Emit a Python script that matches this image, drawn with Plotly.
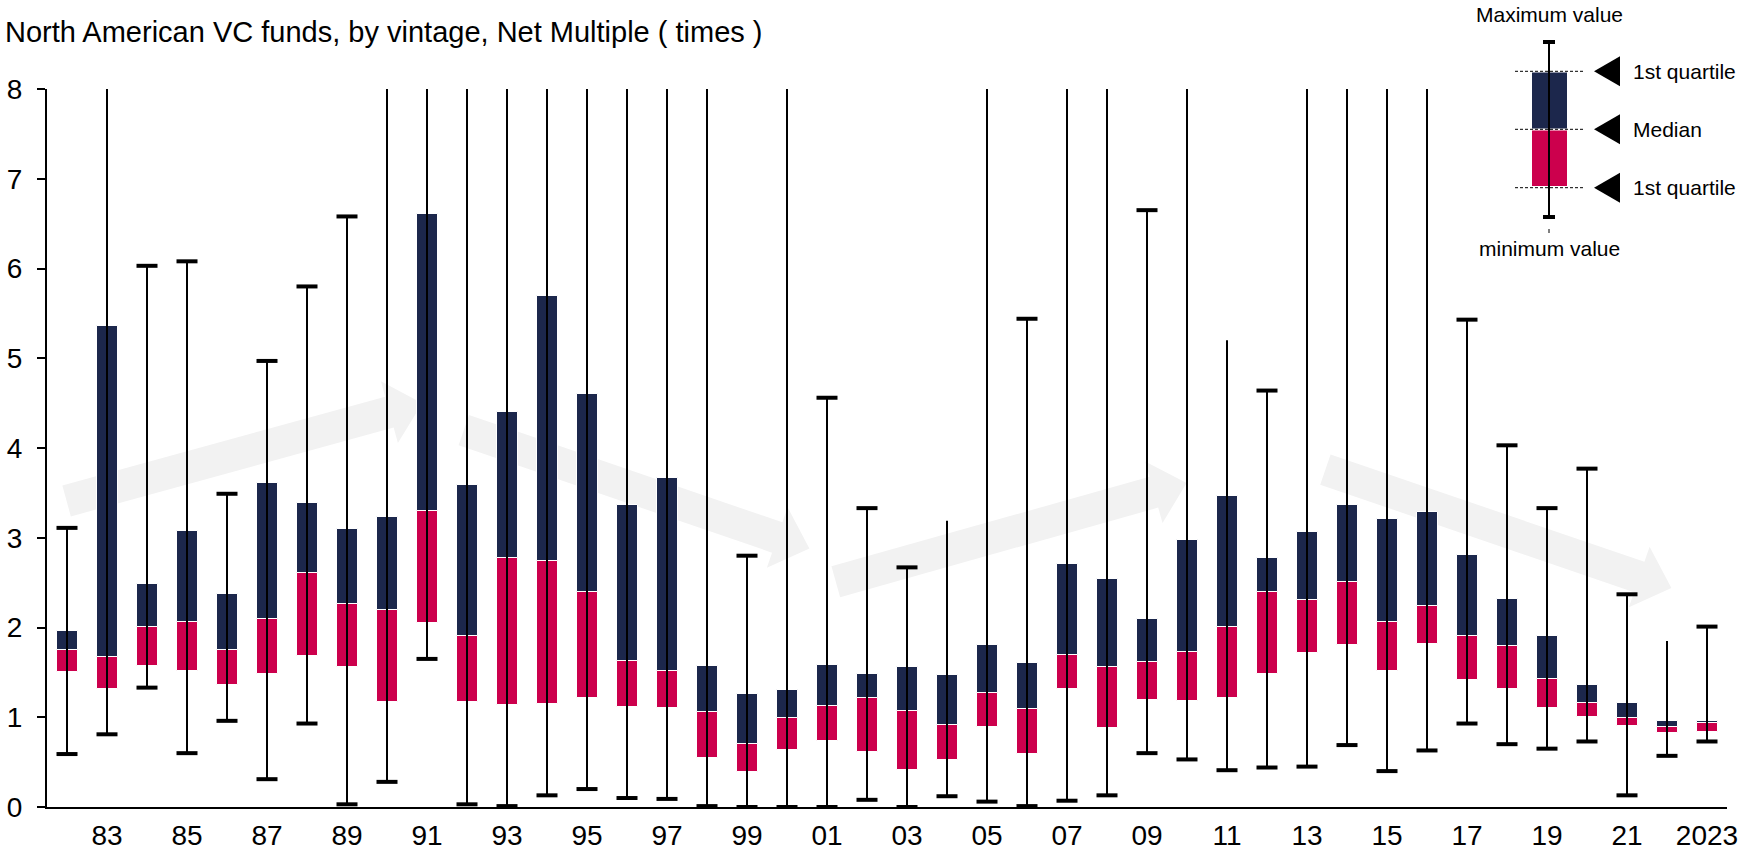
import math
import plotly.graph_objects as go

# ---- data: net multiple distribution per vintage year ----
years = list(range(1982, 2024))
# None = maximum beyond the top of the axis
max_val = [3.11, None, 6.03, 6.08, 3.49, 4.97, 5.80, 6.58, None, None,
           None, None, None, None, None, None, None, 2.80, None, 4.56,
           3.33, 2.67, 3.19, None, 5.44, None, None, 6.65, None, 5.20,
           4.64, None, None, None, None, 5.43, 4.03, 3.33, 3.77, 2.37,
           1.85, 2.01]
max_capped = [True, False, True, True, True, True, True, True, False, False,
              False, False, False, False, False, False, False, True, False, True,
              True, True, False, False, True, False, False, True, False, False,
              True, False, False, False, False, True, True, True, True, True,
              False, True]
q3_val = [1.96, 5.36, 2.49, 3.08, 2.37, 3.61, 3.39, 3.10, 3.23, 6.61,
          3.59, 4.40, 5.69, 4.60, 3.36, 3.67, 1.57, 1.26, 1.30, 1.58,
          1.48, 1.56, 1.47, 1.80, 1.61, 2.71, 2.54, 2.10, 2.97, 3.47,
          2.78, 3.06, 3.36, 3.21, 3.29, 2.81, 2.32, 1.90, 1.36, 1.16,
          0.96, 0.96]
median_val = [1.75, 1.67, 2.01, 2.06, 1.75, 2.09, 2.61, 2.26, 2.20, 3.30,
              1.90, 2.78, 2.74, 2.40, 1.63, 1.51, 1.06, 0.70, 0.99, 1.13,
              1.22, 1.07, 0.91, 1.27, 1.09, 1.69, 1.56, 1.62, 1.73, 2.01,
              2.40, 2.31, 2.51, 2.06, 2.24, 1.90, 1.79, 1.43, 1.16, 0.99,
              0.89, 0.94]
q1_val = [1.50, 1.31, 1.57, 1.52, 1.36, 1.48, 1.68, 1.56, 1.17, 2.05,
          1.17, 1.14, 1.15, 1.22, 1.11, 1.10, 0.55, 0.39, 0.64, 0.73,
          0.61, 0.41, 0.52, 0.89, 0.59, 1.31, 0.88, 1.19, 1.18, 1.21,
          1.48, 1.72, 1.81, 1.51, 1.82, 1.42, 1.32, 1.10, 1.00, 0.90,
          0.83, 0.84]
min_val = [0.59, 0.81, 1.33, 0.60, 0.96, 0.31, 0.93, 0.03, 0.28, 1.65,
           0.03, 0.01, 0.13, 0.20, 0.10, 0.09, 0.01, 0.00, 0.00, 0.00,
           0.08, 0.00, 0.12, 0.06, 0.01, 0.07, 0.13, 0.60, 0.53, 0.41,
           0.44, 0.45, 0.69, 0.40, 0.63, 0.93, 0.70, 0.65, 0.73, 0.13,
           0.57, 0.73]

tick_text = [str(y)[2:] if y % 2 == 1 else "" for y in years]
tick_text[-1] = "2023"

TITLE = "North American VC funds, by vintage, Net Multiple ( times )"

# ---- styling / layout constants ----
NAVY = "#1c274c"
CRIMSON = "#cc004d"
ARROW_GREY = "#f2f2f2"
FONT = "Liberation Sans, Arial, sans-serif"

W, H = 1738, 851
M_L, M_R, M_T, M_B = 47, 11, 89, 44
PLOT_W = W - M_L - M_R
PLOT_H = H - M_T - M_B
Y_MAX = 8
X_RANGE = [-0.5, len(years) - 0.5]
PX_X = PLOT_W / (X_RANGE[1] - X_RANGE[0])
PX_Y = PLOT_H / Y_MAX

xs = list(range(len(years)))

fig = go.Figure()

# lower half of each box: Q1 -> median
fig.add_trace(go.Bar(
    x=xs, y=[m - q for m, q in zip(median_val, q1_val)], base=q1_val,
    width=0.525, marker=dict(color=CRIMSON, line=dict(color="white", width=1)),
    hoverinfo="skip", showlegend=False))
# upper half of each box: median -> Q3
fig.add_trace(go.Bar(
    x=xs, y=[q - m for q, m in zip(q3_val, median_val)], base=median_val,
    width=0.525, marker=dict(color=NAVY, line=dict(color="white", width=1)),
    hoverinfo="skip", showlegend=False))

# whiskers from minimum to maximum (clipped at the top of the axis)
wx, wy = [], []
for i in xs:
    top = max_val[i] if max_val[i] is not None else Y_MAX
    wx += [i, i, None]
    wy += [min_val[i], top, None]
fig.add_trace(go.Scatter(x=wx, y=wy, mode="lines",
                         line=dict(color="black", width=2),
                         hoverinfo="skip", showlegend=False))

# whisker caps
cx, cy = [], []
for i in xs:
    cx.append(i)
    cy.append(min_val[i])
    if max_val[i] is not None and max_capped[i]:
        cx.append(i)
        cy.append(max_val[i])
fig.add_trace(go.Scatter(x=cx, y=cy, mode="markers", cliponaxis=False,
                         marker=dict(symbol="line-ew", size=15,
                                     line=dict(color="black", width=4)),
                         hoverinfo="skip", showlegend=False))


# ---- background trend arrows ----
def arrow_path(x0, y0, x1, y1, body=16, head=32, head_len=34):
    X0, Y0, X1, Y1 = x0 * PX_X, y0 * PX_Y, x1 * PX_X, y1 * PX_Y
    L = math.hypot(X1 - X0, Y1 - Y0)
    ux, uy = (X1 - X0) / L, (Y1 - Y0) / L
    nx, ny = -uy, ux
    bx, by = X1 - ux * head_len, Y1 - uy * head_len
    pts = [(X0 + nx * body, Y0 + ny * body),
           (bx + nx * body, by + ny * body),
           (bx + nx * head, by + ny * head),
           (X1, Y1),
           (bx - nx * head, by - ny * head),
           (bx - nx * body, by - ny * body),
           (X0 - nx * body, Y0 - ny * body)]
    return "M " + " L ".join(f"{px / PX_X:.4f},{py / PX_Y:.4f}" for px, py in pts) + " Z"


arrows = [(-0.01, 3.41, 8.88, 4.50),
          (9.92, 4.20, 18.56, 2.88),
          (19.22, 2.51, 27.99, 3.61),
          (31.46, 3.76, 40.11, 2.44)]
shapes = []
for a in arrows:
    shapes.append(dict(type="path", path=arrow_path(*a), xref="x", yref="y",
                       fillcolor=ARROW_GREY, line=dict(width=0), layer="below"))


# ---- key (top right), placed in pixel terms ----
def px(xp):
    return (xp - M_L) / PLOT_W


def py(yp):
    return (H - M_B - yp) / PLOT_H


KX = 1549
shapes += [
    dict(type="rect", xref="paper", yref="paper", x0=px(1532), x1=px(1567),
         y0=py(72.5), y1=py(128.5), fillcolor=NAVY, line=dict(width=0)),
    dict(type="rect", xref="paper", yref="paper", x0=px(1532), x1=px(1567),
         y0=py(130.5), y1=py(186), fillcolor=CRIMSON, line=dict(width=0)),
    dict(type="line", xref="paper", yref="paper", x0=px(KX), x1=px(KX),
         y0=py(42), y1=py(217), line=dict(color="black", width=2)),
    dict(type="line", xref="paper", yref="paper", x0=px(KX - 6), x1=px(KX + 6),
         y0=py(42), y1=py(42), line=dict(color="black", width=4)),
    dict(type="line", xref="paper", yref="paper", x0=px(KX - 6), x1=px(KX + 6),
         y0=py(217), y1=py(217), line=dict(color="black", width=4)),
    dict(type="line", xref="paper", yref="paper", x0=px(KX), x1=px(KX),
         y0=py(229), y1=py(233), line=dict(color="black", width=1)),
]
key_rows = [(71.3, "1st quartile"), (129.3, "Median"), (187.7, "1st quartile")]
annotations = []
for yk, label in key_rows:
    shapes.append(dict(type="line", xref="paper", yref="paper",
                       x0=px(1515), x1=px(1583), y0=py(yk), y1=py(yk),
                       line=dict(color="black", width=1, dash="3px,2px")))
    shapes.append(dict(type="path", xref="paper", yref="paper",
                       path=f"M {px(1594)},{py(yk)} L {px(1620)},{py(yk - 15)} "
                            f"L {px(1620)},{py(yk + 15)} Z",
                       fillcolor="black", line=dict(width=0)))
    annotations.append(dict(x=px(1631), y=py(yk), xref="paper", yref="paper",
                            text=label, showarrow=False, xanchor="left",
                            yanchor="middle", font=dict(size=21, color="black")))
annotations.append(dict(x=px(KX), y=py(14), xref="paper", yref="paper",
                        text="Maximum value", showarrow=False, xanchor="center",
                        yanchor="middle", font=dict(size=21, color="black")))
annotations.append(dict(x=px(KX), y=py(248), xref="paper", yref="paper",
                        text="minimum value", showarrow=False, xanchor="center",
                        yanchor="middle", font=dict(size=21, color="black")))
annotations.append(dict(x=px(3), y=py(32), xref="paper", yref="paper",
                        text=TITLE, showarrow=False, xanchor="left",
                        yanchor="middle", font=dict(size=29, color="black")))

fig.update_layout(
    width=W, height=H,
    margin=dict(l=M_L, r=M_R, t=M_T, b=M_B, autoexpand=False),
    paper_bgcolor="white", plot_bgcolor="white",
    barmode="overlay", bargap=0,
    font=dict(family=FONT, color="black"),
    shapes=shapes, annotations=annotations,
    xaxis=dict(range=X_RANGE, tickvals=xs, ticktext=tick_text, ticks="",
               showline=True, linecolor="black", linewidth=2,
               showgrid=False, zeroline=False, tickfont=dict(size=28),
               ticklabelstandoff=2, ticklabeloverflow="allow", fixedrange=True),
    yaxis=dict(range=[0, Y_MAX], tickvals=list(range(0, Y_MAX + 1)),
               ticks="outside", ticklen=8, tickwidth=2, tickcolor="black",
               showline=True, linecolor="black", linewidth=2,
               showgrid=False, zeroline=False, tickfont=dict(size=28),
               ticklabelstandoff=9, fixedrange=True),
)

fig.write_html("out.html")
